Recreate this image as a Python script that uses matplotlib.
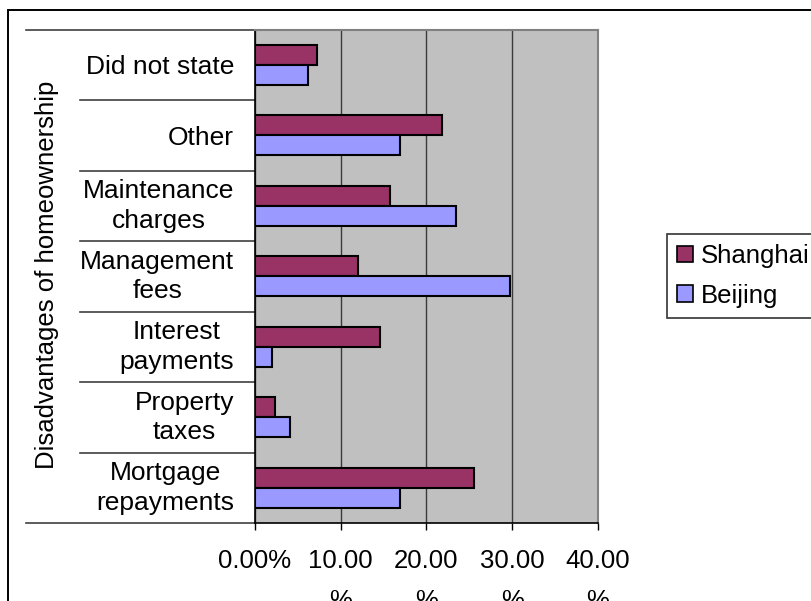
import matplotlib
matplotlib.use("Agg")
import matplotlib.pyplot as plt
from matplotlib.patches import Rectangle, Patch
from matplotlib.lines import Line2D
from matplotlib.transforms import ScaledTranslation
import numpy as np

plt.rcParams['font.family'] = ['Liberation Sans', 'DejaVu Sans']

# Categories listed bottom to top
categories = ["Mortgage\nrepayments", "Property\ntaxes", "Interest\npayments",
              "Management\nfees", "Maintenance\ncharges", "Other", "Did not state"]
shanghai = [25.5, 2.3, 14.6, 12.0, 15.8, 21.8, 7.2]
beijing = [16.9, 4.1, 2.0, 29.7, 23.4, 16.9, 6.2]
series_names = ["Shanghai", "Beijing"]
x_ticks = [0, 10, 20, 30, 40]
x_tick_labels = ["0.00%", "10.00\n%", "20.00\n%", "30.00\n%", "40.00\n%"]
y_title = "Disadvantages of homeownership"

c_sh = "#993366"
c_bj = "#9999FF"
FS = 18.5

W, H = 812, 601
fig = plt.figure(figsize=(W / 100, H / 100), dpi=100)

# outer chart frame (runs off the right and bottom edges)
fig.patches.append(Rectangle((8 / W, -0.1), 1.2, 1 - 10 / H + 0.1,
                             transform=fig.transFigure, fill=False,
                             edgecolor="black", linewidth=1.4, zorder=0))

ax = fig.add_axes([255 / W, 1 - 523 / H, (598 - 255) / W, (523 - 29.5) / H])
ax.set_facecolor("#C0C0C0")

y = np.arange(len(categories))
bh = 0.285
ax.barh(y + bh / 2, shanghai, height=bh, color=c_sh, edgecolor="black",
        linewidth=1.5, zorder=3)
ax.barh(y - bh / 2, beijing, height=bh, color=c_bj, edgecolor="black",
        linewidth=1.5, zorder=3)

ax.set_xlim(0, 40)
ax.set_ylim(-0.5, len(categories) - 0.5)

ax.set_xticks(x_ticks)
ax.set_xticklabels(x_tick_labels, fontsize=FS, linespacing=1.8, va="top")
ax.tick_params(axis="x", direction="out", length=5, width=1, pad=14)
ax.xaxis.grid(True, color="#3a3a3a", linewidth=1, zorder=1)
ax.set_axisbelow(True)

ax.set_yticks(y)
ax.set_yticklabels(categories, fontsize=19, ha="right", multialignment="center",
                   linespacing=1.3)
ax.tick_params(axis="y", length=0, pad=15)
# nudge two-line category labels up a little
lift = ScaledTranslation(0, 5 / 100, fig.dpi_scale_trans)
for lbl in ax.get_yticklabels():
    if "\n" in lbl.get_text():
        lbl.set_transform(lbl.get_transform() + lift)

for side in ("top", "right"):
    ax.spines[side].set_color("#808080")
    ax.spines[side].set_linewidth(1.5)
for side in ("left", "bottom"):
    ax.spines[side].set_color("black")
    ax.spines[side].set_linewidth(1.2)

# category divider lines to the left of the plot area
trans = ax.get_yaxis_transform()
bounds = np.arange(len(categories) + 1) - 0.5
x_short = (80 - 255) / (598 - 255)
x_long = (26 - 255) / (598 - 255)
for i, b in enumerate(bounds):
    x0 = x_long if i in (0, len(bounds) - 1) else x_short
    ax.add_line(Line2D([x0, 0], [b, b], transform=trans, color="#404040",
                       linewidth=1.2, clip_on=False))

fig.text(47 / W, 1 - 275 / H, y_title, rotation=90, fontsize=FS,
         ha="center", va="center")

handles = [Patch(facecolor=c_sh, edgecolor="black", linewidth=1.2),
           Patch(facecolor=c_bj, edgecolor="black", linewidth=1.2)]
leg = fig.legend(handles, series_names, loc="center left",
                 bbox_to_anchor=(667 / W, 1 - 276 / H), fontsize=FS,
                 frameon=True, fancybox=False, edgecolor="black",
                 handlelength=0.6, handleheight=0.6, handletextpad=0.3,
                 labelspacing=0.6, borderpad=0.4, borderaxespad=0)
leg.get_frame().set_linewidth(1.2)

fig.savefig("out.png", dpi=100)
